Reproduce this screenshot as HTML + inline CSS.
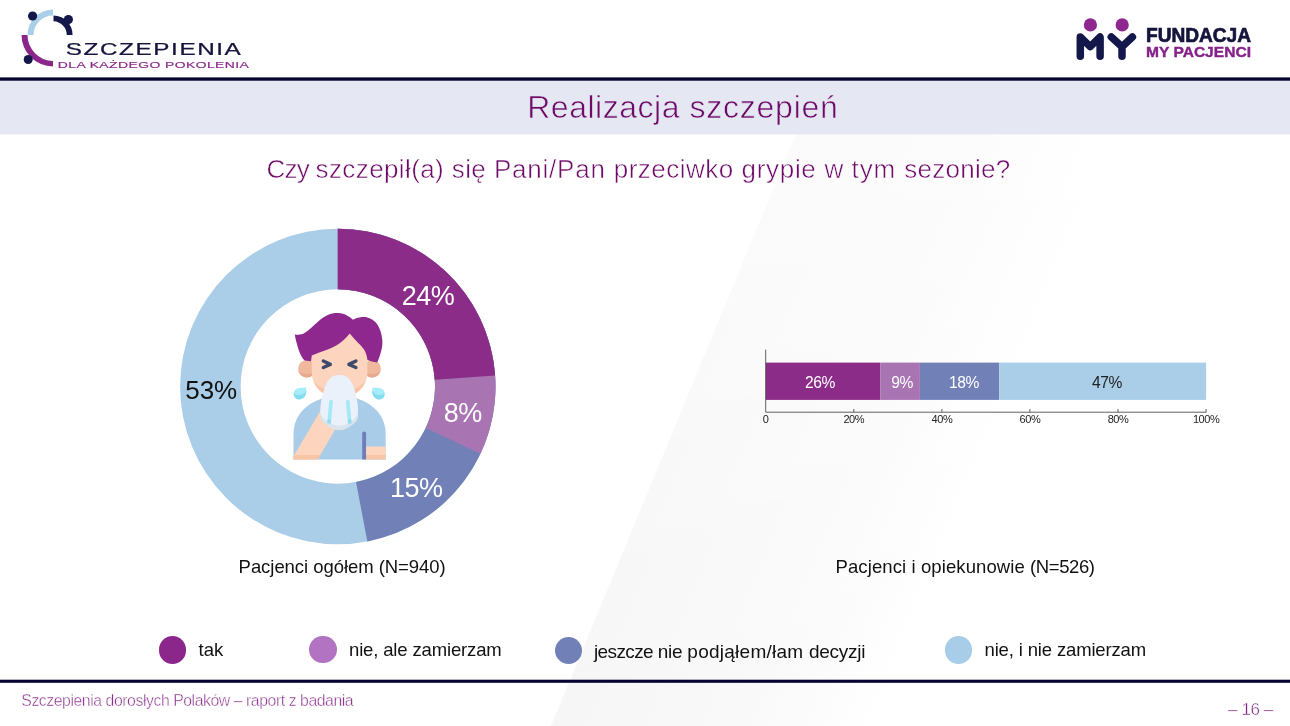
<!DOCTYPE html>
<html lang="pl">
<head>
<meta charset="utf-8">
<title>Realizacja szczepień</title>
<style>
  html, body { margin: 0; padding: 0; background: #ffffff; }
  body { width: 1290px; height: 726px; position: relative; overflow: hidden;
         font-family: "Liberation Sans", sans-serif; }
  .abs { position: absolute; white-space: nowrap; line-height: 1; }
  #gfx { position: absolute; left: 0; top: 0; }
  .title { -webkit-text-stroke: 0.6px #e5e8f2; color: #6e0a68; font-size: 32px; left: 527.2px; top: 91px; letter-spacing: 0.68px; }
  .question { -webkit-text-stroke: 0.5px #ffffff; color: #6e0a68; font-size: 26px; left: 266.4px; top: 156.2px; letter-spacing: 0.47px; }
  .caption { color: #111111; font-size: 18.5px; letter-spacing: -0.05px; }
  .legend { color: #111111; font-size: 18.5px; letter-spacing: -0.15px; }
  .footer { -webkit-text-stroke: 0.4px #ffffff; color: #8a2d8a; font-size: 15.8px; left: 21.3px; top: 692.8px; letter-spacing: -0.44px; }
  .pageno { -webkit-text-stroke: 0.45px #fafafb; color: #7c2280; font-size: 17px; left: 1228px; top: 700.6px; letter-spacing: -0.4px; }
  .dot { position: absolute; width: 27.6px; height: 27.6px; border-radius: 50%; }
</style>
</head>
<body>
<svg id="gfx" width="1290" height="726" viewBox="0 0 1290 726">
  <defs>
    <linearGradient id="bgfade" gradientUnits="userSpaceOnUse" x1="551" y1="726" x2="827" y2="840">
      <stop offset="0" stop-color="#f6f6f7"/>
      <stop offset="0.6" stop-color="#f9f9fa"/>
      <stop offset="1" stop-color="#ffffff"/>
    </linearGradient>
    <linearGradient id="vfade" gradientUnits="userSpaceOnUse" x1="0" y1="726" x2="0" y2="134">
      <stop offset="0" stop-color="#ffffff"/>
      <stop offset="1" stop-color="#707070"/>
    </linearGradient>
    <mask id="wedgemask" maskUnits="userSpaceOnUse" x="0" y="0" width="1290" height="726">
      <rect x="0" y="0" width="1290" height="726" fill="url(#vfade)"/>
    </mask>
  </defs>
  <!-- faint diagonal background wedge -->
  <polygon points="551,726 1290,726 1290,134 796,134" fill="url(#bgfade)" mask="url(#wedgemask)"/>

  <!-- header band and rules -->
  <rect x="0" y="80" width="1290" height="54.4" fill="#e5e8f2"/>
  <rect x="0" y="77.4" width="1290" height="3.3" fill="#05032f"/>
  <rect x="0" y="679.7" width="1290" height="3.1" fill="#05032f"/>

  <!-- left logo: Szczepienia dla każdego pokolenia -->
  <g id="logo-left">
    <path d="M27.5,35 A25.5,25.5 0 0 1 53,9.5 L53,15.5 A19.5,19.5 0 0 0 33.5,35 Z" fill="#a9cfe9"/>
    <path d="M21.5,35 A31.5,31.5 0 0 0 53,66.5 L53,61 A26,26 0 0 1 27.5,35 Z" fill="#8b278b"/>
    <path d="M53.5,15.4 A19.6,19.6 0 0 1 72.6,35 L66.8,35 A13.8,13.8 0 0 0 53.5,21.2 Z" fill="#14174a"/>
    <circle cx="32.6" cy="16" r="4.6" fill="#14174a"/>
    <circle cx="68.4" cy="19.6" r="4.6" fill="#14174a"/>
    <circle cx="28.2" cy="59.5" r="4.5" fill="#14174a"/>
    <text transform="translate(65.8,54.8) scale(1.5,1)" font-family="'Liberation Sans', sans-serif" font-size="16.2" fill="#14143c" stroke="#14143c" stroke-width="0.25" letter-spacing="1.05">SZCZEPIENIA</text>
    <text transform="translate(57.8,68) scale(1.55,1)" font-family="'Liberation Sans', sans-serif" font-size="9" fill="#8b278b" stroke="#8b278b" stroke-width="0.15" letter-spacing="0.27">DLA KAŻDEGO POKOLENIA</text>
  </g>

  <!-- right logo: Fundacja My Pacjenci -->
  <g id="logo-right">
    <circle cx="1090.4" cy="24.9" r="6.6" fill="#8e2790"/>
    <circle cx="1122.2" cy="24.9" r="6.6" fill="#8e2790"/>
    <path d="M1080.3,56.3 L1080.3,37 L1090.2,46.6 L1100.1,37 L1100.1,56.3" fill="none" stroke="#14174a" stroke-width="7.5" stroke-linecap="round" stroke-linejoin="round"/>
    <path d="M1111.3,37 L1122,46.8 L1132.4,37 M1122,46.8 L1122,56.3" fill="none" stroke="#14174a" stroke-width="7.5" stroke-linecap="round" stroke-linejoin="round"/>
    <text x="1146" y="41.8" font-family="'Liberation Sans', sans-serif" font-weight="bold" font-size="19.5" fill="#14143c" stroke="#14143c" stroke-width="0.7" textLength="105" lengthAdjust="spacingAndGlyphs">FUNDACJA</text>
    <text x="1146" y="57.1" font-family="'Liberation Sans', sans-serif" font-weight="bold" font-size="15.4" fill="#86218a" stroke="#86218a" stroke-width="0.4" textLength="105" lengthAdjust="spacingAndGlyphs">MY PACJENCI</text>
  </g>

  <!-- donut chart -->
  <g id="donut">
    <path fill-rule="evenodd" d="M180.10000000000002,386.5 a157.7,157.7 0 1 0 315.4,0 a157.7,157.7 0 1 0 -315.4,0 Z M240.60000000000002,386.5 a97.2,97.2 0 1 0 194.4,0 a97.2,97.2 0 1 0 -194.4,0 Z" fill="#aacde8"/>
    <path d="M337.80,228.80 A157.7,157.7 0 0 1 367.35,541.41 L356.01,481.98 A97.2,97.2 0 0 0 337.80,289.30 Z" fill="#7181b8"/>
    <path d="M337.80,228.80 A157.7,157.7 0 0 1 480.49,453.65 L425.75,427.89 A97.2,97.2 0 0 0 337.80,289.30 Z" fill="#a974b2"/>
    <path d="M337.80,228.80 A157.7,157.7 0 0 1 495.12,375.61 L434.77,379.79 A97.2,97.2 0 0 0 337.80,289.30 Z" fill="#8a2c88"/>
    <g font-family="'Liberation Sans', sans-serif" font-size="27" text-anchor="middle" letter-spacing="-0.5" fill="#ffffff">
      <text x="428" y="304.7">24%</text>
      <text x="462.8" y="421.8">8%</text>
      <text x="416.2" y="496.9">15%</text>
      <text x="211.2" y="399.4" font-size="26" letter-spacing="0" fill="#111111">53%</text>
    </g>
  </g>

  <!-- person icon -->
  <g id="person">
    <!-- shirt -->
    <path d="M293.5,459.6 V434 C293.5,411 314,396 339.6,396 C365.2,396 385.7,411 385.7,434 V459.6 Z" fill="#a9cde8"/>
    <!-- neck -->
    <rect x="326" y="384" width="27" height="16" fill="#fdd5be"/>
    <!-- ears -->
    <circle cx="306.9" cy="368.7" r="8.8" fill="#f0b99d"/>
    <circle cx="372.1" cy="368.7" r="8.8" fill="#f0b99d"/>
    <path d="M298.3,370.5 A8.8,8.8 0 0 0 315.5,370.5 A10,7 0 0 1 298.3,370.5 Z" fill="#e8a98d"/>
    <path d="M363.5,370.5 A8.8,8.8 0 0 0 380.7,370.5 A10,7 0 0 1 363.5,370.5 Z" fill="#e8a98d"/>
    <!-- face -->
    <path d="M311.8,330 H367.4 V372 C367.4,388 354,397.5 339.6,397.5 C325.2,397.5 311.8,388 311.8,372 Z" fill="#fdd5be"/>
    <path d="M313.5,381 C317,392 328,397.5 339.6,397.5 C351.2,397.5 362,392 365.7,381 C360,388 350,391.5 339.6,391.5 C329,391.5 319,388 313.5,381 Z" fill="#f9c4a6"/>
    <!-- hair -->
    <path d="M294.8,334.4 C299,335 302,334.5 304.6,333.1 C309,330.5 313,326 317.7,322 C321,319 324.5,316.5 328.2,314.8 C331.5,313.4 335,312.9 338.6,313.1 C341.5,313.3 344,314 346.5,315.2 C349,316.4 351,318 353,319.7 C355,318.4 357.2,317.7 359.6,317.4 C362.2,317 364.8,317 367.4,317.4 C370.4,318.2 373,319.7 375.3,322 C377.8,324.6 379.4,327.8 380.5,331.2 C381.6,334.6 382.2,338 382.4,341.6 C382.5,345.6 381.8,349.5 380.5,353.4 C379.6,356.6 378.4,359.7 377.2,362.6 L372,361.5 L367.4,359.9 C367,356.6 366.2,353.6 364.8,350.8 C363.2,347.8 360.8,345.2 358.2,342.9 C355.2,340 352.4,336.8 349.7,333.5 C347,337 343.8,340.2 340,342.9 C335.2,346.3 329.8,348.9 324.2,350.8 C320,352.2 315.8,353.6 311.8,355.4 L311.2,361.2 L304.6,360.6 C303.6,359.6 302.8,358.5 302,357.3 C299.6,353 297.9,348.4 296.8,343.6 C296,340.6 295.2,337.5 294.8,334.4 Z" fill="#8e278e"/>
    <!-- eyes -->
    <path d="M323.3,361 L330.3,364.4 L323.3,367.5" fill="none" stroke="#3f4a6b" stroke-width="3.4" stroke-linecap="round" stroke-linejoin="round"/>
    <path d="M355.9,361 L348.9,364.4 L355.9,367.5" fill="none" stroke="#3f4a6b" stroke-width="3.4" stroke-linecap="round" stroke-linejoin="round"/>
    <!-- tears -->
    <path d="M305.9,387.4 C306.8,391 306.4,395 303.8,397.6 C301.4,400 297.2,400 295,397.4 C292.8,394.8 293.4,391 296,389.2 C298.8,387.4 302.6,387.8 305.9,387.4 Z" fill="#a6ecf9"/>
    <path d="M294.2,393.2 C296.5,395.3 300.5,395.6 303.6,393.4 C304.6,392.7 305.5,391.8 306.3,390.8 C306.4,393.4 305.6,395.9 303.8,397.6 C301.4,400 297.2,400 295,397.4 C294,396.2 293.8,394.6 294.2,393.2 Z" fill="#84dcef"/>
    <path d="M372.6,387.4 C371.7,391 372.1,395 374.7,397.6 C377.1,400 381.3,400 383.5,397.4 C385.7,394.8 385.1,391 382.5,389.2 C379.7,387.4 375.9,387.8 372.6,387.4 Z" fill="#a6ecf9"/>
    <path d="M384.3,393.2 C382,395.3 378,395.6 374.9,393.4 C373.9,392.7 373,391.8 372.2,390.8 C372.1,393.4 372.9,395.9 374.7,397.6 C377.1,400 381.3,400 383.5,397.4 C384.5,396.2 384.7,394.6 384.3,393.2 Z" fill="#84dcef"/>
    <!-- raised arm -->
    <path d="M293.5,459.6 V456.3 L320.6,410.5 L336,428 L317.7,459.6 Z" fill="#fdd5be"/>
    <path d="M293.5,459.6 V456.3 L295.2,455 H320.4 L317.7,459.6 Z" fill="#f8c5a6"/>
    <!-- mask -->
    <path d="M339.3,375 C331,375 326.4,381 324.2,389.6 C322.2,397 320.4,404 320.4,410.5 V416.5 C320.4,421.5 326,424.8 330,427.2 C333,429 336,430.2 339.3,430.2 C342.6,430.2 345.6,429 348.6,427.2 C352.6,424.8 358,421.5 358,416.5 V410.5 C358,404 356.4,397 354.4,389.6 C352.2,381 347.6,375 339.3,375 Z" fill="#d9e4ec"/>
    <path d="M339.3,375 C331,375 326.4,381 324.2,389.6 C322.2,397 320.4,404 320.4,410.5 V412 C320.4,417 326,420.4 330,422.8 C333,424.6 336,425.8 339.3,425.8 C342.6,425.8 345.6,424.6 348.6,422.8 C352.6,420.4 358,417 358,412 V410.5 C358,404 356.4,397 354.4,389.6 C352.2,381 347.6,375 339.3,375 Z" fill="#eaf1fa"/>
    <path d="M331,401.6 L329.4,419.5" fill="none" stroke="#a3e9f8" stroke-width="3.7" stroke-linecap="round"/>
    <path d="M329.4,419.5 L328.9,423.4" fill="none" stroke="#8fdcee" stroke-width="3.7"/>
    <path d="M347.8,401.6 L349.4,419.5" fill="none" stroke="#a3e9f8" stroke-width="3.7" stroke-linecap="round"/>
    <path d="M349.4,419.5 L349.9,423.4" fill="none" stroke="#8fdcee" stroke-width="3.7"/>
    <!-- sleeve + hand -->
    <path d="M362.2,459.6 V433.4 A1.95,1.95 0 0 1 366.1,433.4 V459.6 Z" fill="#6f7db8"/>
    <rect x="366.1" y="446.5" width="19.6" height="8.6" fill="#fdd5be"/>
    <rect x="366.1" y="455" width="19.6" height="4.6" fill="#f8c5a6"/>
  </g>

  <!-- stacked bar chart -->
  <g id="bar">
    <rect x="765.7" y="362.6" width="114.5" height="37.3" fill="#8a2c88"/>
    <rect x="880.2" y="362.6" width="39.7" height="37.3" fill="#a974b2"/>
    <rect x="919.9" y="362.6" width="79.3" height="37.3" fill="#7181b8"/>
    <rect x="999.2" y="362.6" width="206.9" height="37.3" fill="#aacde8"/>
    <path d="M765.7,349.7 V412.2 H1206.3 M853.8,409 V412.2 M941.9,409 V412.2 M1029.9,409 V412.2 M1118,409 V412.2 M1206.1,409 V412.2" fill="none" stroke="#505050" stroke-width="0.9"/>
    <g font-family="'Liberation Sans', sans-serif" font-size="15.6" text-anchor="middle" letter-spacing="-0.45">
      <text x="820" y="387.5" fill="#ffffff">26%</text>
      <text x="902" y="387.5" fill="#ffffff">9%</text>
      <text x="964" y="387.5" fill="#ffffff">18%</text>
      <text x="1107" y="387.5" fill="#222222">47%</text>
    </g>
    <g font-family="'Liberation Sans', sans-serif" font-size="11" text-anchor="middle" fill="#222222" letter-spacing="-0.45">
      <text x="765.7" y="422.7">0</text>
      <text x="853.8" y="422.7">20%</text>
      <text x="941.9" y="422.7">40%</text>
      <text x="1029.9" y="422.7">60%</text>
      <text x="1118" y="422.7">80%</text>
      <text x="1206.1" y="422.7">100%</text>
    </g>
  </g>
</svg>


<div class="abs title"><span style="letter-spacing:0.52px">Realizacja </span><span style="letter-spacing:0.77px">szczepień</span></div>
<div class="abs question"><span style="letter-spacing:-0.7px">Czy </span><span style="letter-spacing:0.39px">szczepił(a) </span><span style="letter-spacing:0.42px">się </span><span style="letter-spacing:0.78px">Pani/Pan </span><span style="letter-spacing:0.5px">przeciwko </span><span style="letter-spacing:0.7px">grypie </span><span style="letter-spacing:0.52px">w </span><span style="letter-spacing:0.92px">tym </span><span style="letter-spacing:0.26px">sezonie?</span></div>

<div class="abs caption" style="left:238.6px; top:558.2px;">Pacjenci ogółem (N=940)</div>
<div class="abs caption" style="left:835.5px; top:558.2px;"><span style="letter-spacing:0.1px">Pacjenci i opiekunowie </span><span style="letter-spacing:-0.42px">(N=526)</span></div>

<div class="dot" style="left:158.7px; top:636.2px; background:#8b278b;"></div>
<div class="abs legend" style="left:198.6px; top:641.2px; letter-spacing:0;">tak</div>
<div class="dot" style="left:309.1px; top:635.7px; background:#b173c2;"></div>
<div class="abs legend" style="left:349px; top:641.2px;">nie, ale zamierzam</div>
<div class="dot" style="left:554.9px; top:636.7px; background:#7181b8;"></div>
<div class="abs legend" style="left:594px; top:641.7px; font-size:19px;"><span style="letter-spacing:-0.62px">jeszcze </span><span style="letter-spacing:-0.25px">nie </span><span style="letter-spacing:0.26px">podjąłem/łam </span><span style="letter-spacing:-0.27px">decyzji</span></div>
<div class="dot" style="left:944.7px; top:636px; background:#a7cde8;"></div>
<div class="abs legend" style="left:984.5px; top:641.2px;">nie, i nie zamierzam</div>

<div class="abs footer">Szczepienia dorosłych Polaków – raport z badania</div>
<div class="abs pageno">– 16 –</div>
</body>
</html>
